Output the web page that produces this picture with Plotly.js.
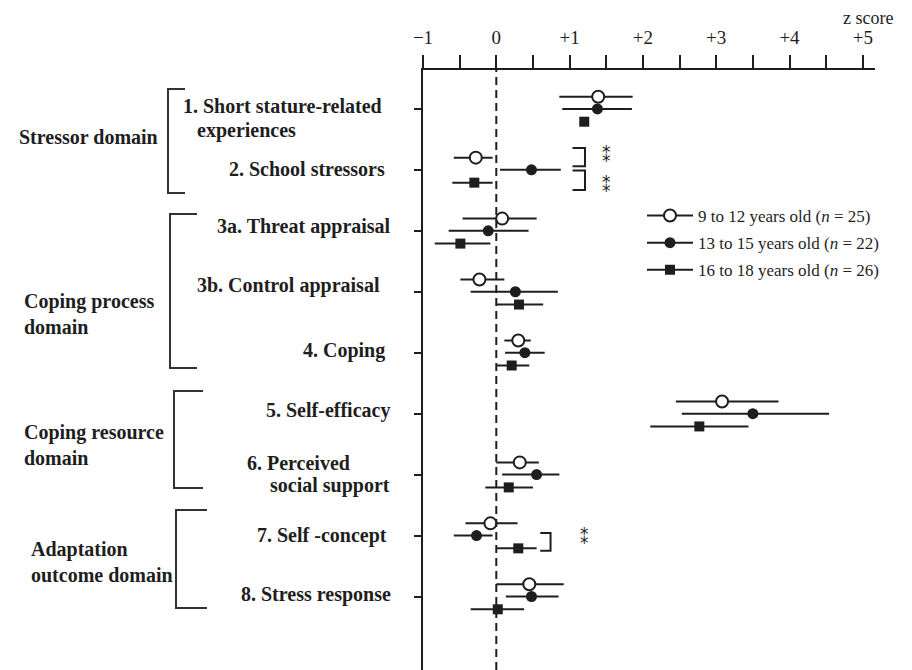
<!DOCTYPE html>
<html>
<head>
<meta charset="utf-8">
<script src="https://cdn.plot.ly/plotly-3.0.1.min.js"></script>
<style>
  html, body { margin: 0; padding: 0; background: #fff; }
  #chart { width: 912px; height: 670px; }
</style>
</head>
<body>
<div id="chart"></div>
<script>
// ---------- DATA ----------
const items = ["1. Short stature-related experiences", "2. School stressors", "3a. Threat appraisal",
  "3b. Control appraisal", "4. Coping", "5. Self-efficacy", "6. Perceived social support",
  "7. Self -concept", "8. Stress response"];
const seriesNames = ["9 to 12 years old (<i>n</i> = 25)", "13 to 15 years old (<i>n</i> = 22)", "16 to 18 years old (<i>n</i> = 26)"];

// 9 to 12 years old
const meanA = [1.39, -0.28, 0.08, -0.23, 0.30, 3.08, 0.32, -0.08, 0.45];
const loA   = [0.86, -0.58, -0.46, -0.49, 0.11, 2.45, 0.00, -0.42, 0.00];
const hiA   = [1.86, -0.05, 0.55, 0.11, 0.47, 3.85, 0.58, 0.29, 0.92];
// 13 to 15 years old
const meanB = [1.38, 0.48, -0.11, 0.26, 0.39, 3.50, 0.55, -0.27, 0.48];
const loB   = [0.90, 0.05, -0.65, -0.35, 0.12, 2.53, 0.08, -0.58, 0.13];
const hiB   = [1.85, 0.88, 0.44, 0.84, 0.66, 4.54, 0.86, -0.05, 0.85];
// 16 to 18 years old
const meanC = [1.20, -0.30, -0.49, 0.31, 0.21, 2.77, 0.17, 0.30, 0.02];
const loC   = [1.20, -0.60, -0.84, 0.00, 0.00, 2.10, -0.15, 0.00, -0.35];
const hiC   = [1.20, -0.05, -0.08, 0.64, 0.45, 3.44, 0.50, 0.55, 0.38];

const xTickVals = [-1, -0.5, 0, 0.5, 1, 1.5, 2, 2.5, 3, 3.5, 4, 4.5, 5];
const xTickText = ["\u22121", "", "0", "", "+1", "", "+2", "", "+3", "", "+4", "", "+5"];

// ---------- STYLE / LAYOUT HELPERS ----------
const FONT = "Liberation Serif, Times New Roman, serif";
const INK = "#1e1e1e";
const rowOffset = [-0.2, 0, 0.21];
const L = 423, R = 875, T = 70, B = 670;
const PW = R - L, PH = B - T;
const pxX = p => (p - L) / PW;
const pxY = p => (B - p) / PH;

function series(mean, lo, hi, k, marker) {
  const idx = items.map((_, i) => i + rowOffset[k]);
  return {
    type: "scatter", mode: "markers", x: mean, y: idx, showlegend: false,
    hoverinfo: "skip", cliponaxis: false,
    marker: marker,
    error_x: { type: "data", symmetric: false,
      array: hi.map((h, i) => h - mean[i]),
      arrayminus: lo.map((l, i) => mean[i] - l),
      width: 0, thickness: 2, color: INK }
  };
}
const mA = { symbol: "circle", size: 12, color: "#fff", line: { color: INK, width: 2 } };
const mB = { symbol: "circle", size: 11, color: INK, line: { color: INK, width: 0 } };
const mC = { symbol: "square", size: 10, color: INK, line: { color: INK, width: 0 } };

const traces = [
  series(meanA, loA, hiA, 0, mA),
  series(meanB, loB, hiB, 1, mB),
  series(meanC, loC, hiC, 2, mC)
];
[mA, mB, mC].forEach((m, k) => {
  traces.push({ type: "scatter", mode: "lines+markers", x: [null], y: [null],
    name: seriesNames[k], legendgroup: "g" + k, marker: m,
    line: { color: INK, width: 2 } });
});

// ---------- ANNOTATIONS ----------
const ann = [];
const LBL = 20;
function label(text, xpx, row, shift, anchor) {
  ann.push({ text: "<b>" + text + "</b>", xref: "paper", yref: "y", x: pxX(xpx), y: row,
    yshift: -shift, xanchor: anchor, yanchor: "middle", showarrow: false,
    font: { family: FONT, size: LBL, color: INK } });
}
label("1. Short stature-related", 384, 0, -3, "right");
label("experiences", 195, 0, 22, "left");
label("2. School stressors", 387, 1, -1, "right");
label("3a. Threat appraisal", 393, 2, -4, "right");
label("3b. Control appraisal", 382, 3, -6, "right");
label("4. Coping", 387, 4, -2, "right");
label("5. Self-efficacy", 392, 5, -3, "right");
label("6. Perceived", 245, 6, -12, "left");
label("social support", 392, 6, 11, "right");
label("7. Self -concept", 389, 7, 0, "right");
label("8. Stress response", 393, 8, -2, "right");

function domain(text, xpx, ypx) {
  ann.push({ text: "<b>" + text + "</b>", xref: "paper", yref: "paper", x: pxX(xpx), y: pxY(ypx),
    xanchor: "left", yanchor: "middle", align: "left", showarrow: false,
    font: { family: FONT, size: LBL, color: INK } });
}
domain("Stressor domain", 17, 137);
domain("Coping process<br>domain", 22, 314);
domain("Coping resource<br>domain", 22, 445);
domain("Adaptation<br>outcome domain", 29, 562);

// significance marks (two asterisks stacked vertically)
function stars(x, y) {
  ann.push({ text: "\u2051", xref: "x", yref: "y", x: x, y: y, showarrow: false,
    xanchor: "center", yanchor: "middle",
    font: { family: "DejaVu Sans, DejaVu Serif, sans-serif", size: 17, color: INK } });
}
stars(1.51, 0.76);
stars(1.51, 1.25);
stars(1.21, 7.03);

ann.push({ text: "z score", xref: "paper", yref: "paper", x: pxX(868), y: pxY(18),
  xanchor: "center", yanchor: "middle", showarrow: false,
  font: { family: FONT, size: 18, color: INK } });

// ---------- SHAPES ----------
const shapes = [];
shapes.push({ type: "line", xref: "x", yref: "paper", x0: 0, x1: 0, y0: 0, y1: 1,
  line: { color: INK, width: 2, dash: "8px,5px" } });
function domBracket(xv, xa, ytop, ybot) {
  shapes.push({ type: "path", xref: "paper", yref: "paper",
    path: `M ${pxX(xa)},${pxY(ytop)} H ${pxX(xv)} V ${pxY(ybot)} H ${pxX(xa)}`,
    line: { color: "#333", width: 2 } });
}
domBracket(168, 185, 89, 193);
domBracket(170, 197, 214, 368);
domBracket(174, 203, 391, 488);
domBracket(176, 207, 510, 608);
function sigBracket(x0, x1, y0, y1) {
  shapes.push({ type: "path", xref: "x", yref: "y",
    path: `M ${x0},${y0} H ${x1} V ${y1} H ${x0}`, line: { color: INK, width: 2 } });
}
sigBracket(1.04, 1.21, 0.64, 0.94);
sigBracket(1.04, 1.21, 1.01, 1.33);
sigBracket(0.60, 0.74, 6.96, 7.25);

const layout = {
  width: 912, height: 670,
  margin: { l: L, r: 912 - R, t: T, b: 0, pad: 0 },
  paper_bgcolor: "#fff", plot_bgcolor: "#fff",
  font: { family: FONT, color: INK },
  xaxis: {
    side: "top", range: [-1.0, -1 + PW / 73.3], showgrid: false, zeroline: false,
    showline: true, linecolor: INK, linewidth: 2, ticks: "outside", ticklen: 13,
    tickwidth: 2, tickcolor: INK, tickvals: xTickVals, ticktext: xTickText,
    tickfont: { family: FONT, size: 19, color: INK }, ticklabelstandoff: 3,
    automargin: false, fixedrange: true
  },
  yaxis: {
    range: [(B - 108.9) / 60.95, (T - 108.9) / 60.95], showgrid: false, zeroline: false,
    showline: true, linecolor: INK, linewidth: 2, ticks: "outside", ticklen: 7,
    tickwidth: 2, tickcolor: INK, tickvals: items.map((_, i) => i), showticklabels: false,
    automargin: false, fixedrange: true
  },
  showlegend: true,
  legend: { x: pxX(642), y: pxY(198), xanchor: "left", yanchor: "top",
    bgcolor: "rgba(0,0,0,0)", traceorder: "grouped", tracegroupgap: 2, itemwidth: 46,
    font: { family: FONT, size: 17, color: INK } },
  annotations: ann, shapes: shapes
};

Plotly.newPlot("chart", traces, layout, { displayModeBar: false, staticPlot: true });
</script>
</body>
</html>
